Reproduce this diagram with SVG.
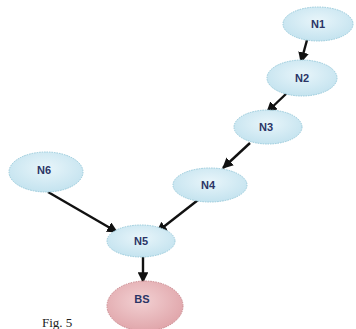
<svg xmlns="http://www.w3.org/2000/svg" width="356" height="329" viewBox="0 0 356 329">
<style>
.n ellipse{fill:url(#gb);stroke:#98cadb;stroke-width:1;stroke-dasharray:1.5 1}
.bs ellipse{fill:url(#gr);stroke:#c9868c;stroke-width:1;stroke-dasharray:1.5 1}
text.l{font-family:"Liberation Sans",Arial,sans-serif;font-size:11px;font-weight:bold;fill:#2b3566;text-anchor:middle}
.c line{stroke:#111;stroke-width:2.4;marker-end:url(#ah)}
</style>
<defs>
<radialGradient id="gb" cx="0.5" cy="0.4" r="0.6"><stop offset="0" stop-color="#e8f5fa"/><stop offset="1" stop-color="#c4e3ef"/></radialGradient>
<radialGradient id="gr" cx="0.45" cy="0.4" r="0.65"><stop offset="0" stop-color="#f2d0d2"/><stop offset="1" stop-color="#dfa3a8"/></radialGradient>
<marker id="ah" viewBox="0 0 10 10" refX="9" refY="5" markerWidth="4.5" markerHeight="4.5" orient="auto" markerUnits="strokeWidth"><path d="M0,0 L10,5 L0,10 z" fill="#111"/></marker>
</defs>
<rect width="356" height="329" fill="#fff"/>
<g class="c" id="connectors">
<line x1="307" y1="40" x2="301" y2="62"/>
<line x1="287" y1="93" x2="267" y2="112"/>
<line x1="250" y1="143" x2="223" y2="168"/>
<line x1="198" y1="200" x2="157" y2="232"/>
<line x1="48" y1="192" x2="117" y2="232"/>
<line x1="143" y1="257" x2="143" y2="282"/>
</g>
<g id="N1" class="n"><ellipse cx="318" cy="24" rx="35" ry="17"/><text class="l" x="318" y="28">N1</text></g>
<g id="N2" class="n"><ellipse cx="302" cy="78" rx="35" ry="18"/><text class="l" x="302" y="82">N2</text></g>
<g id="N3" class="n"><ellipse cx="268" cy="127" rx="34" ry="17"/><text class="l" x="266" y="131">N3</text></g>
<g id="N4" class="n"><ellipse cx="210" cy="185" rx="37" ry="17"/><text class="l" x="208" y="189">N4</text></g>
<g id="N5" class="n"><ellipse cx="141" cy="241" rx="34" ry="16"/><text class="l" x="141" y="245">N5</text></g>
<g id="N6" class="n"><ellipse cx="46" cy="172" rx="37" ry="20"/><text class="l" x="44" y="174">N6</text></g>
<g id="BS" class="bs"><ellipse cx="145" cy="306" rx="38" ry="25"/><text class="l" x="142" y="303">BS</text></g>
<text x="42" y="327" font-family="Liberation Serif,Times New Roman,serif" font-size="13" fill="#222">Fig. 5</text>
</svg>
